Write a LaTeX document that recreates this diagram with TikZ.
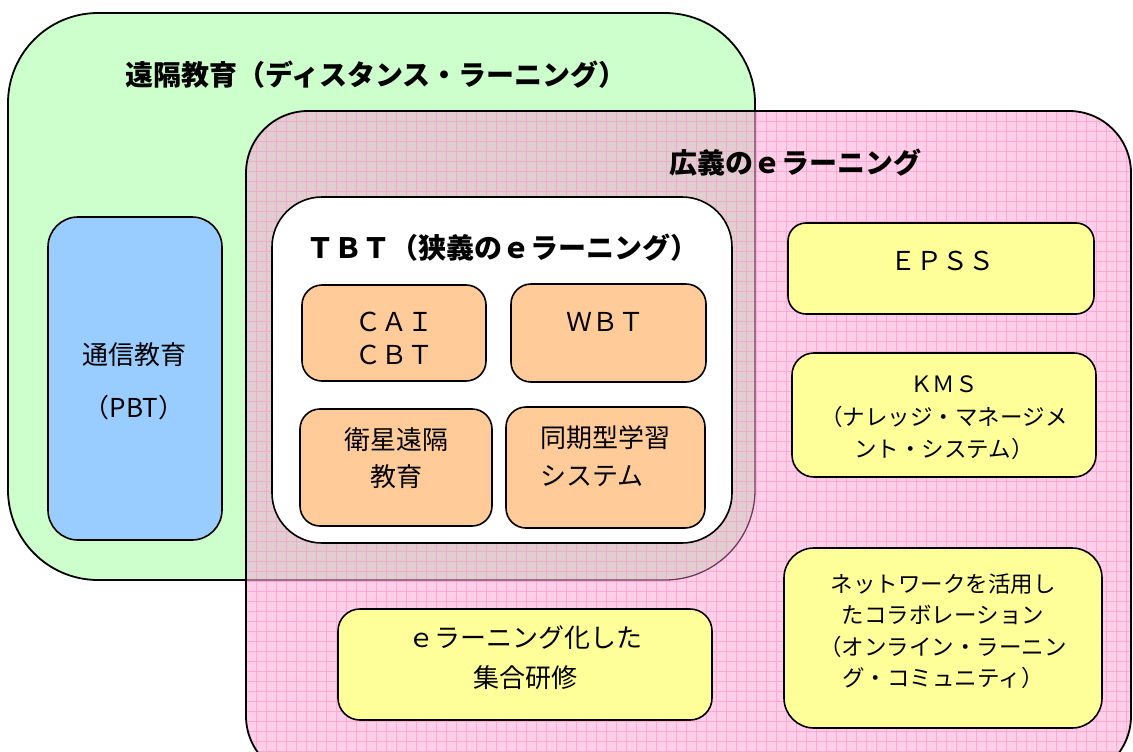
\documentclass[tikz,border=0pt]{standalone}
\usepackage{fontspec}
\setmainfont{Noto Sans CJK JP}
\definecolor{greenbg}{RGB}{204,255,204}
\definecolor{pinkbg}{RGB}{255,206,232}
\definecolor{pinkline}{RGB}{255,168,212}
\definecolor{overbg}{RGB}{226,206,208}
\definecolor{overline}{RGB}{236,172,206}
\definecolor{overedge}{RGB}{110,60,90}
\definecolor{bluebg}{RGB}{153,204,255}
\definecolor{orangebg}{RGB}{255,204,153}
\definecolor{yellowbg}{RGB}{255,255,153}
\tikzset{
  frame/.style={draw=black, line width=1.6pt},
  body/.style={font=\fontsize{26}{35}\selectfont, align=center, inner sep=0pt},
  small/.style={font=\fontsize{22.5}{32}\selectfont, align=center, inner sep=0pt},
  title/.style={font=\bfseries\fontsize{28}{32}\selectfont, inner sep=0pt},
}
\begin{document}
\begin{tikzpicture}[x=1pt,y=-1pt]
\useasboundingbox (0,0) rectangle (1133,752);
\clip (0,0) rectangle (1133,752);
% green: distance learning
\fill[greenbg, rounded corners=90pt] (8,13) rectangle (755,580);
\draw[line width=1.8pt, rounded corners=90pt] (8,13) rectangle (755,580);
% pink: broad e-learning
\fill[pinkbg, rounded corners=62pt] (246,111) rectangle (1131,778);
\begin{scope}
  \clip[rounded corners=62pt] (246,111) rectangle (1131,778);
  \foreach \i in {0,...,90} {
    \draw[pinkline, line width=0.6pt] (246+\i*10,111) -- (246+\i*10,778);
  }
  \foreach \j in {0,...,67} {
    \draw[pinkline, line width=0.6pt] (246,111+\j*10) -- (1131,111+\j*10);
  }
  % overlap with green
  \begin{scope}
    \clip[rounded corners=90pt] (8,13) rectangle (755,580);
    \fill[overbg] (246,111) rectangle (755,580);
    \foreach \i in {0,...,51} {
      \draw[overline, line width=0.6pt] (246+\i*10,111) -- (246+\i*10,580);
    }
    \foreach \j in {0,...,47} {
      \draw[overline, line width=0.6pt] (246,111+\j*10) -- (755,111+\j*10);
    }
  \end{scope}
  \draw[overedge, line width=1.3pt, rounded corners=90pt] (8,13) rectangle (755,580);
\end{scope}
\draw[line width=1.8pt, rounded corners=62pt] (246,111) rectangle (1131,778);

% titles
\node[title] (tDist) at (376,75) {遠隔教育（ディスタンス・ラーニング）};
\node[title] (tBroad) at (795,163) {広義のｅラーニング};

% blue box
\draw[frame, fill=bluebg, rounded corners=30pt] (48,217) rectangle (222,540);
\node[body] (tsushin) at (134,355) {通信教育};
\node[body] (pbt) at (134,408) {（PBT）};

% TBT white box
\draw[frame, fill=white, rounded corners=50pt] (272,197) rectangle (732,543);
\node[title] (tTBT) at (502,248) {ＴＢＴ（狭義のｅラーニング）};

% orange boxes
\draw[frame, fill=orangebg, rounded corners=20pt] (302,285) rectangle (486,381);
\node[body, font=\fontsize{26}{33}\selectfont] (cai) at (394,338) {ＣＡＩ\\ＣＢＴ};
\draw[frame, fill=orangebg, rounded corners=20pt] (511,284) rectangle (706,382);
\node[body] (wbt) at (605,322) {ＷＢＴ};
\draw[frame, fill=orangebg, rounded corners=20pt] (300,409) rectangle (492,526);
\node[body, font=\fontsize{26}{37}\selectfont] (eisei) at (396,458) {衛星遠隔\\教育};
\draw[frame, fill=orangebg, rounded corners=20pt] (506,407) rectangle (705,528);
\node[body, align=left, font=\fontsize{26}{38}\selectfont] (doki) at (605,456) {同期型学習\\システム};

% yellow boxes
\draw[frame, fill=yellowbg, rounded corners=18pt] (788,223) rectangle (1094,314);
\node[body] (epss) at (942,261) {ＥＰＳＳ};
\draw[frame, fill=yellowbg, rounded corners=22pt] (792,353) rectangle (1096,477);
\node[small, font=\fontsize{22.5}{32.5}\selectfont] (kms) at (944,418) {ＫＭＳ\\（ナレッジ・マネージメ\\ント・システム）};
\draw[frame, fill=yellowbg, rounded corners=30pt] (784,548) rectangle (1102,728);
\node[small, font=\fontsize{22.5}{31.5}\selectfont] (collab) at (943,631) {ネットワークを活用し\\たコラボレーション\\（オンライン・ラーニン\\グ・コミュニティ）};
\draw[frame, fill=yellowbg, rounded corners=22pt] (338,609) rectangle (712,720);
\node[body, font=\fontsize{26}{40}\selectfont] (shugo) at (525,658) {ｅラーニング化した\\集合研修};
\end{tikzpicture}
\end{document}
